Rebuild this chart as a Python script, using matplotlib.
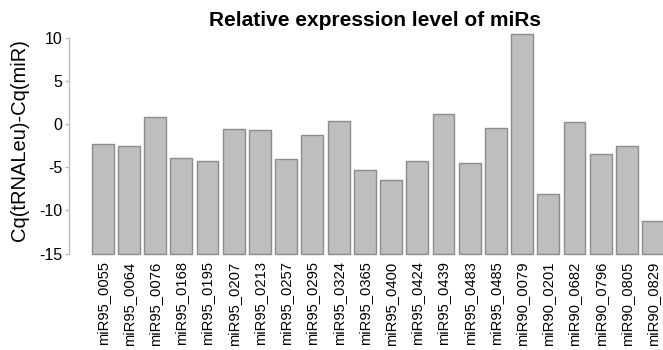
import matplotlib
matplotlib.use("Agg")
import matplotlib.pyplot as plt

plt.rcParams['font.family'] = ['Liberation Sans', 'DejaVu Sans']

labels = ["miR95_0055", "miR95_0064", "miR95_0076", "miR95_0168", "miR95_0195",
          "miR95_0207", "miR95_0213", "miR95_0257", "miR95_0295", "miR95_0324",
          "miR95_0365", "miR95_0400", "miR95_0424", "miR95_0439", "miR95_0483",
          "miR95_0485", "miR90_0079", "miR90_0201", "miR90_0682", "miR90_0796",
          "miR90_0805", "miR90_0829"]
values = [-2.24, -2.55, 0.8, -3.9, -4.29, -0.54, -0.66, -4.09, -1.24, 0.4,
          -5.33, -6.52, -4.29, 1.2, -4.44, -0.4, 10.4, -8.11, 0.2, -3.48,
          -2.58, -11.2]
y_ticks = [-15, -10, -5, 0, 5, 10]
baseline = -15

W, H = 663, 350
fig = plt.figure(figsize=(W / 100, H / 100), dpi=100)

# plot region in pixel terms
left_px, right_px, top_px, bottom_px = 69, 663, 30, 260
ax = fig.add_axes([left_px / W, 1 - bottom_px / H,
                   (right_px - left_px) / W, (bottom_px - top_px) / H])

pitch = 26.22
c0 = 102.6
x = list(range(len(values)))
heights = [v - baseline for v in values]
ax.bar(x, heights, bottom=baseline, width=1 / 1.2, color='#bebebe',
       edgecolor='#8c8c8c', linewidth=1.0, zorder=2)

ax.set_xlim((left_px - c0) / pitch, (right_px - c0) / pitch)
zero_px, scale = 124.2, 8.63
ax.set_ylim((zero_px - bottom_px) / scale, (zero_px - top_px) / scale)

for s in ['top', 'right', 'bottom']:
    ax.spines[s].set_visible(False)
ax.spines['left'].set_bounds(-15, 10)
ax.spines['left'].set_color('#bdbdbd')
ax.spines['left'].set_linewidth(1.0)

ax.set_yticks(y_ticks)
ax.set_yticklabels([str(t) for t in y_ticks], fontsize=11.5)
ax.tick_params(axis='y', length=3, width=1, color='#bdbdbd', pad=2)

ax.set_xticks(x)
ax.set_xticklabels(labels, rotation=90, fontsize=10.6, va='top', ha='center')
ax.tick_params(axis='x', length=0, pad=1)

fig.text(20 / W, 1 - 140 / H, "Cq(tRNALeu)-Cq(miR)", rotation=90,
         fontsize=14.5, ha='center', va='center')
fig.text(375 / W, 1 - 21 / H, "Relative expression level of miRs",
         fontsize=15, fontweight='bold', ha='center', va='center')

fig.savefig("out.png", dpi=100)
